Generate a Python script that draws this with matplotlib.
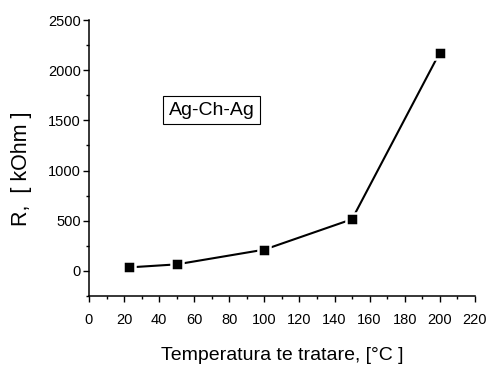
import matplotlib
matplotlib.use("Agg")
import matplotlib.pyplot as plt
from matplotlib.ticker import MultipleLocator

plt.rcParams['font.family'] = ['Liberation Sans', 'DejaVu Sans']

# treatment temperature (°C) and resistance (kOhm)
temperature = [23, 50, 100, 150, 200]
resistance = [35, 65, 212, 515, 2175]
sample_label = "Ag-Ch-Ag"

fig = plt.figure(figsize=(4.89, 3.67), dpi=100)
ax = fig.add_axes([0.182, 0.1935, 0.789, 0.752])

# line with a small gap around each marker (white marker edge)
ax.plot(temperature, resistance, color='black', linewidth=1.5,
        marker='s', markersize=8.3, markerfacecolor='black',
        markeredgecolor='white', markeredgewidth=1.8)

ax.set_xlim(0, 220)
ax.set_ylim(-250, 2500)
ax.xaxis.set_major_locator(MultipleLocator(20))
ax.xaxis.set_minor_locator(MultipleLocator(10))
ax.yaxis.set_major_locator(MultipleLocator(500))
ax.yaxis.set_minor_locator(MultipleLocator(250))

for side in ['top', 'right']:
    ax.spines[side].set_visible(False)
for side in ['left', 'bottom']:
    ax.spines[side].set_linewidth(1.1)

ax.tick_params(axis='both', which='major', direction='out', length=4, width=1.0, labelsize=10.5)
ax.tick_params(axis='both', which='minor', direction='out', length=2.2, width=1.0)
ax.tick_params(axis='x', which='major', pad=8)
ax.tick_params(axis='y', which='major', pad=2)

ax.set_xlabel("Temperatura te tratare, [°C ]", fontsize=14)
ax.set_ylabel("R,  [ kOhm ]", fontsize=15.5)
ax.xaxis.set_label_coords(0.5, -0.185)
ax.yaxis.set_label_coords(-0.147, 0.46)

ax.text(70, 1600, sample_label, fontsize=14, ha='center', va='center',
        bbox=dict(boxstyle='square,pad=0.28', facecolor='white',
                  edgecolor='black', linewidth=0.8))

fig.savefig("out.png", dpi=100)
